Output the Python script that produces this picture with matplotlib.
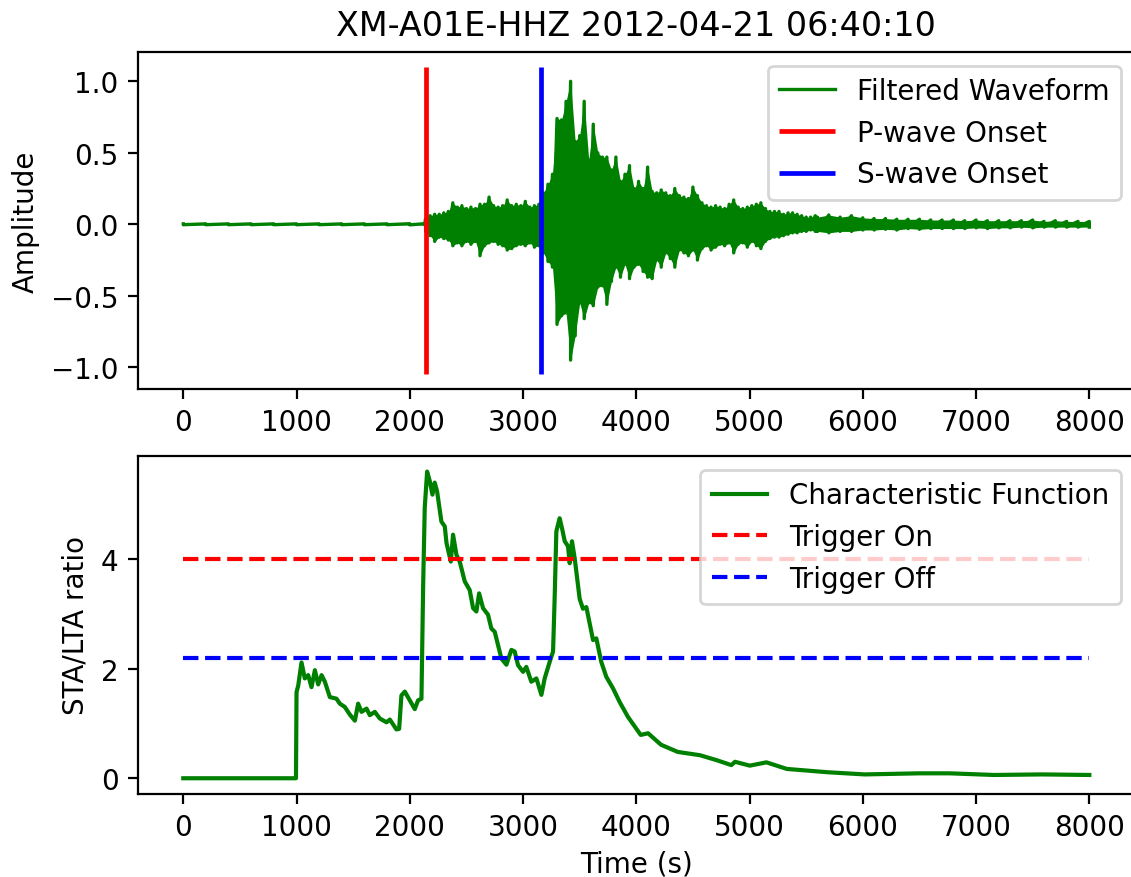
import numpy as np
import matplotlib.pyplot as plt

title = 'XM-A01E-HHZ 2012-04-21 06:40:10'
p_onset = 2140
s_onset = 3160
trig_on = 4.0
trig_off = 2.2

# огибающая волновой формы (верх / низ)
pre_t = [0, 200, 400, 600, 800, 1000, 1200, 1400, 1600, 1800, 2000, 2130]
pre_up = [0.003, 0.003, 0.003, 0.003, 0.003, 0.003, 0.003, 0.003, 0.003, 0.003, 0.004, 0.004]
pre_lo = [-0.003, -0.003, -0.003, -0.003, -0.003, -0.003, -0.003, -0.003, -0.003, -0.003, -0.004, -0.004]

mid_t = np.arange(2140, 5600, 40)
mid_up = [0.04, 0.06, 0.07, 0.07, 0.08, 0.09, 0.15, 0.12, 0.13, 0.11,
          0.12, 0.11, 0.14, 0.14, 0.19, 0.13, 0.12, 0.13, 0.17, 0.13,
          0.14, 0.13, 0.16, 0.12, 0.13, 0.14, 0.22, 0.28, 0.35, 0.74,
          0.73, 0.86, 1.00, 0.58, 0.62, 0.86, 0.45, 0.70, 0.50, 0.47,
          0.47, 0.38, 0.47, 0.30, 0.35, 0.41, 0.25, 0.30, 0.25, 0.40,
          0.23, 0.22, 0.24, 0.22, 0.20, 0.25, 0.20, 0.19, 0.18, 0.26,
          0.20, 0.15, 0.13, 0.12, 0.13, 0.12, 0.11, 0.14, 0.17, 0.12,
          0.11, 0.12, 0.13, 0.14, 0.15, 0.11, 0.09, 0.09, 0.09, 0.07,
          0.08, 0.08, 0.07, 0.06, 0.05, 0.05, 0.06]
mid_lo = [-0.05, -0.08, -0.12, -0.09, -0.10, -0.11, -0.15, -0.13, -0.15, -0.12,
          -0.14, -0.12, -0.22, -0.15, -0.13, -0.12, -0.14, -0.15, -0.18, -0.17,
          -0.15, -0.14, -0.15, -0.13, -0.16, -0.15, -0.20, -0.26, -0.30, -0.70,
          -0.64, -0.62, -0.95, -0.78, -0.55, -0.66, -0.55, -0.57, -0.44, -0.43,
          -0.56, -0.40, -0.30, -0.37, -0.28, -0.38, -0.30, -0.28, -0.33, -0.37,
          -0.38, -0.25, -0.30, -0.20, -0.24, -0.30, -0.18, -0.20, -0.22, -0.18,
          -0.25, -0.17, -0.15, -0.18, -0.16, -0.14, -0.15, -0.13, -0.20, -0.14,
          -0.13, -0.16, -0.12, -0.15, -0.17, -0.12, -0.10, -0.09, -0.09, -0.08,
          -0.07, -0.06, -0.06, -0.05, -0.05, -0.04, -0.05]

post_t = np.arange(5600, 8001, 100)
post_up = [0.05, 0.065, 0.05, 0.06, 0.045, 0.04, 0.04, 0.035, 0.035, 0.035,
           0.03, 0.03, 0.03, 0.025, 0.03, 0.025, 0.025, 0.025, 0.025, 0.03,
           0.02, 0.025, 0.02, 0.02, 0.02]
post_lo = [-0.05, -0.06, -0.05, -0.05, -0.04, -0.04, -0.035, -0.04, -0.03, -0.035,
           -0.03, -0.03, -0.03, -0.03, -0.025, -0.03, -0.025, -0.025, -0.02, -0.025,
           -0.02, -0.02, -0.02, -0.02, -0.02]

# характеристическая функция STA/LTA
cf_t = [0, 995, 1000, 1015, 1044, 1073, 1103, 1132, 1162, 1191, 1221, 1250,
        1294, 1353, 1382, 1426, 1471, 1515, 1544, 1574, 1618, 1647, 1691, 1735,
        1794, 1824, 1882, 1906, 1926, 1956, 2000, 2044, 2073, 2103, 2118, 2132,
        2153, 2176, 2200, 2220, 2241, 2279, 2309, 2324, 2362, 2382, 2412, 2441,
        2485, 2529, 2559, 2588, 2612, 2647, 2691, 2720, 2750, 2809, 2853, 2897,
        2926, 2956, 3000, 3029, 3073, 3118, 3162, 3191, 3235, 3265, 3279, 3294,
        3323, 3347, 3368, 3397, 3412, 3432, 3456, 3500, 3529, 3559, 3618, 3647,
        3691, 3735, 3794, 3853, 3926, 4039, 4104, 4219, 4366, 4562, 4709, 4839,
        4872, 5002, 5149, 5329, 5688, 6015, 6504, 6765, 7157, 7582, 8000]
cf_v = [0, 0, 1.57, 1.69, 2.11, 1.82, 1.88, 1.66, 1.97, 1.71, 1.88, 1.76,
        1.48, 1.45, 1.36, 1.30, 1.16, 1.05, 1.36, 1.21, 1.27, 1.15, 1.21, 1.09,
        1.02, 1.07, 0.89, 0.90, 1.51, 1.58, 1.42, 1.26, 1.42, 1.45, 3.52, 4.93,
        5.59, 5.42, 5.17, 5.39, 5.23, 4.68, 4.59, 4.29, 3.95, 4.44, 4.07, 3.95,
        3.59, 3.43, 3.10, 3.04, 3.37, 3.10, 2.98, 2.73, 2.67, 2.18, 2.07, 2.34,
        2.31, 2.06, 1.94, 2.03, 1.76, 1.82, 1.52, 1.82, 2.12, 2.31, 3.28, 4.50,
        4.74, 4.53, 4.32, 4.23, 3.92, 4.32, 4.01, 3.27, 3.09, 3.12, 2.52, 2.55,
        2.12, 1.85, 1.64, 1.39, 1.12, 0.79, 0.82, 0.61, 0.48, 0.42, 0.33, 0.24,
        0.30, 0.23, 0.29, 0.17, 0.11, 0.07, 0.09, 0.09, 0.06, 0.07, 0.06]

env_t = np.concatenate([pre_t, mid_t, post_t])
env_up = np.concatenate([pre_up, mid_up, post_up])
env_lo = np.concatenate([pre_lo, mid_lo, post_lo])
wave_t = np.repeat(env_t, 2)
wave = np.column_stack([env_up, env_lo]).ravel()

fig = plt.figure(figsize=(5.655, 4.39), dpi=200)
ax1 = fig.add_axes([0.1220, 0.5558, 0.8812, 0.3842])
ax2 = fig.add_axes([0.1220, 0.0950, 0.8812, 0.3842])

# полоса огибающей + сам сигнал
ax1.fill_between(env_t, env_lo, env_up, color='green', lw=0)
ax1.plot(wave_t, wave, color='green', lw=1.2, label='Filtered Waveform')
ax1.vlines(p_onset, wave.min() * 1.1, wave.max() * 1.1, color='red', lw=1.7, label='P-wave Onset')
ax1.vlines(s_onset, wave.min() * 1.1, wave.max() * 1.1, color='blue', lw=1.7, label='S-wave Onset')
ax1.set_ylabel('Amplitude')
ax1.set_title(title)
ax1.set_xlim(-400, 8400)
ax1.legend(loc='upper right')

ax2.plot(cf_t, cf_v, color='green', lw=1.5, label='Characteristic Function')
ax2.hlines(trig_on, 0, 8000, color='red', lw=1.5, linestyle='--', label='Trigger On')
ax2.hlines(trig_off, 0, 8000, color='blue', lw=1.5, linestyle='--', label='Trigger Off')
ax2.set_xlabel('Time (s)', labelpad=3)
ax2.set_ylabel('STA/LTA ratio')
ax2.set_xlim(-400, 8400)
ax2.legend(loc='upper right')

fig.savefig('out.png', dpi=200)
